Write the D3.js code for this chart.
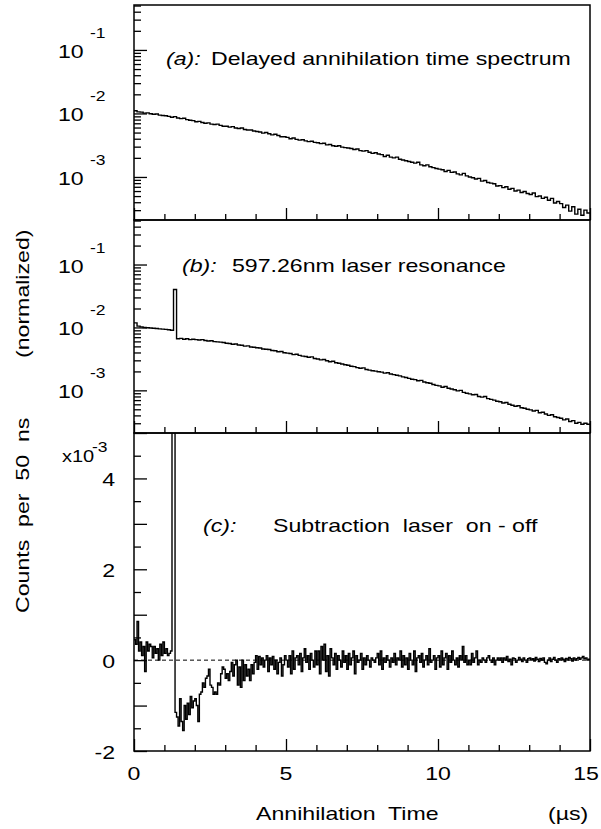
<!DOCTYPE html>
<html>
<head>
<meta charset="utf-8">
<script src="https://cdn.jsdelivr.net/npm/d3@7"></script>
<style>
body { margin: 0; background: #fff; }
svg text { font-family: "Liberation Sans", Arial, Helvetica, sans-serif; fill: #000; }
</style>
</head>
<body>
<div id="chart"></div>
<script>
// Histogram contents.
// Panels (a) and (b): 100 ns bins, values in units of 1e-3 (normalized counts).
const binAB = 0.1
const spectrumA = [
    11.0, 10.6, 10.5, 10.1, 10.2, 9.9, 9.7, 9.8, 9.4, 9.3,
    9.2, 9.0, 8.7, 8.9, 8.5, 8.3, 8.4, 8.0, 7.8, 7.7,
    7.4, 7.5, 7.2, 7.0, 7.1, 6.8, 6.7, 6.8, 6.5, 6.3,
    6.3, 6.1, 6.2, 5.9, 5.8, 5.9, 5.6, 5.5, 5.5, 5.3,
    5.2, 5.1, 4.9, 5.0, 4.8, 4.6, 4.7, 4.5, 4.3, 4.3,
    4.2, 4.0, 4.1, 3.9, 3.8, 3.85, 3.7, 3.6, 3.65, 3.5,
    3.45, 3.35, 3.4, 3.2, 3.25, 3.1, 3.05, 3.1, 2.95, 2.9,
    2.85, 2.8, 2.7, 2.75, 2.6, 2.55, 2.6, 2.45, 2.35, 2.4,
    2.3, 2.25, 2.1, 2.2, 2.05, 2.0, 2.05, 1.9, 1.85, 1.8,
    1.75, 1.7, 1.65, 1.7, 1.55, 1.5, 1.55, 1.45, 1.4, 1.36,
    1.33, 1.3, 1.22, 1.27, 1.18, 1.2, 1.12, 1.08, 1.14, 1.04,
    1.0, 0.97, 0.93, 0.95, 0.86, 0.88, 0.82, 0.8, 0.78, 0.72,
    0.73, 0.68, 0.7, 0.64, 0.66, 0.6, 0.62, 0.57, 0.59, 0.55,
    0.53, 0.56, 0.49, 0.5, 0.46, 0.48, 0.43, 0.46, 0.39, 0.41,
    0.38, 0.33, 0.36, 0.29, 0.34, 0.26, 0.31, 0.25, 0.3, 0.27
]
const spectrumB = [
    11.8, 10.5, 10.2, 10.0, 9.9, 9.8, 9.7, 9.6, 9.5, 9.4,
    9.3, 9.2, 9.0, 40.0, 6.6, 6.7, 6.5, 6.6, 6.4, 6.5,
    6.4, 6.3, 6.4, 6.2, 6.1, 6.15, 5.95, 5.9, 5.85, 5.75,
    5.6, 5.55, 5.4, 5.45, 5.25, 5.2, 5.05, 5.1, 4.9, 4.85,
    4.75, 4.7, 4.55, 4.5, 4.45, 4.3, 4.25, 4.1, 4.15, 3.95,
    3.9, 3.85, 3.7, 3.75, 3.6, 3.5, 3.45, 3.35, 3.4, 3.2,
    3.15, 3.05, 3.1, 2.95, 2.85, 2.9, 2.75, 2.7, 2.62, 2.55,
    2.5, 2.42, 2.38, 2.3, 2.25, 2.28, 2.15, 2.1, 2.05, 2.02,
    1.98, 1.95, 1.88, 1.9, 1.82, 1.78, 1.74, 1.7, 1.64, 1.6,
    1.55, 1.5, 1.48, 1.42, 1.44, 1.36, 1.32, 1.3, 1.24, 1.2,
    1.18, 1.12, 1.15, 1.08, 1.05, 1.02, 0.98, 1.0, 0.93, 0.9,
    0.88, 0.85, 0.86, 0.8, 0.78, 0.8, 0.74, 0.72, 0.7, 0.67,
    0.66, 0.63, 0.64, 0.6, 0.58, 0.56, 0.57, 0.53, 0.52, 0.5,
    0.49, 0.47, 0.48, 0.44, 0.45, 0.42, 0.4, 0.41, 0.38, 0.37,
    0.36, 0.34, 0.35, 0.32, 0.33, 0.3, 0.31, 0.29, 0.3, 0.29
]
// Panel (c): 50 ns bins, laser on - off, units of 1e-3.
const binC = 0.05
const subtraction = [
    0.45, 0.35, 0.85, 0.2, 0.4, 0.1, 0.3, -0.25, 0.4, 0.2,
    0.35, 0.3, 0.05, 0.3, 0.15, 0.25, 0.0, 0.35, 0.1, 0.4,
    0.15, 0.25, 0.1, 0.15, 0.2, 12, 7, -1.15, -1.25, -1.45,
    -0.85, -1.35, -1.55, -1.0, -1.3, -0.95, -1.2, -0.8, -1.05, -0.9,
    -0.85, -1.0, -1.35, -0.75, -0.7, -0.5, -0.6, -0.4, -0.35, -0.2,
    -0.55, -0.6, -0.75, -0.7, -0.75, -0.5, -0.55, -0.3, -0.15, -0.2,
    -0.4, -0.3, -0.45, -0.25, -0.05, -0.35, -0.1, 0.0, -0.55, -0.15,
    -0.6, 0.0, -0.45, -0.1, -0.35, -0.2, -0.45, -0.1, -0.3, -0.05,
    0.1, -0.2, 0.08, -0.1, 0.05, -0.15, 0.0, 0.1, -0.25, 0.05,
    -0.1, 0.08, -0.2, 0.0, -0.3, -0.05, 0.05, -0.35, -0.1, 0.1,
    0.0, -0.15, 0.1, -0.3, 0.2, -0.2, 0.05, 0.1, -0.1, 0.15,
    -0.25, 0.05, 0.25, -0.05, 0.1, -0.2, 0.15, 0.0, -0.15, 0.2,
    -0.1, 0.2, -0.3, 0.3, 0.0, 0.35, -0.25, 0.1, -0.35, 0.25,
    0.05, -0.1, 0.15, -0.2, 0.1, 0.0, -0.15, 0.2, -0.05, 0.1,
    -0.2, 0.15, -0.1, 0.05, 0.2, -0.3, 0.1, -0.05, 0.0, 0.15,
    -0.2, 0.05, -0.1, 0.1, 0.0, -0.15, 0.05, 0.0, -0.05, 0.05,
    0.15, -0.1, 0.2, -0.2, 0.05, -0.05, 0.1, 0.0, -0.15, 0.05,
    -0.05, 0.15, -0.1, 0.05, 0.0, 0.2, -0.15, 0.1, -0.1, 0.05,
    -0.2, 0.15, 0.0, -0.1, 0.2, -0.25, 0.05, 0.1, -0.05, 0.15,
    -0.15, 0.0, 0.1, -0.1, 0.25, -0.05, 0.0, 0.1, -0.2, 0.05,
    0.1, -0.15, 0.2, -0.1, 0.05, 0.15, -0.2, 0.1, -0.05, 0.2,
    0.0, -0.1, 0.05, -0.15, 0.1, 0.0, 0.3, -0.05, 0.1, -0.1,
    0.0, -0.1, 0.15, -0.05, 0.05, 0.2, -0.1, 0.0, -0.05, 0.05,
    0.0, -0.05, 0.05, 0.1, 0.0, -0.05, 0.05, -0.1, 0.0, 0.05,
    0.0, 0.05, -0.05, 0.05, 0.0, 0.08, -0.03, 0.02, -0.1, 0.05,
    0.03, -0.05, 0.0, 0.06, 0.02, -0.03, 0.05, 0.0, -0.05, 0.03,
    0.05, 0.0, 0.03, -0.02, 0.06, 0.02, -0.03, 0.04, 0.0, 0.05,
    -0.05, -0.08, 0.0, 0.05, -0.03, 0.02, 0.06, 0.0, -0.05, 0.03,
    0.0, 0.05, 0.02, -0.03, 0.04, 0.0, 0.06, 0.03, -0.02, 0.05,
    0.0, 0.03, 0.06, 0.02, 0.05, 0.08, 0.03, 0.05, 0.0, 0.02
]

// Axis ticks and labels.
const xMajorTicks = [0, 5, 10, 15]
const xMinorTicks = [1, 2, 3, 4, 6, 7, 8, 9, 11, 12, 13, 14]
const logDecades = [-1, -2, -3]
const cLabelTicks = [-2, 0, 2, 4]
const cIntTicks = [-1, 1, 3, 5]
const cHalfTicks = [-1.5, -0.5, 0.5, 1.5, 2.5, 3.5, 4.5]
const panelTags = ["(a):", "(b):", "(c):"]
const panelTexts = ["Delayed annihilation time spectrum", "597.26nm laser resonance", "Subtraction  laser  on - off"]

// Layout.
let width = 601
let height = 829
let left = 134, right = 590
let panelTops = [5, 220, 433]
let panelBottoms = [220, 433, 751]
let fontSize = 18.5
let stretch = 1.25
let logDomain = [2.1e-4, 0.51]

let svg = d3.select("#chart")
    .append("svg")
    .attr("width", width)
    .attr("height", height)

let x = d3.scaleLinear().domain([0, 15]).range([left, right])

// Text helper: the original lettering is wider than Arial, so stretch horizontally.
function addText(g, str, px, py, opts) {
    opts = opts || {}
    return g.append("text")
        .attr("transform", "translate(" + px + "," + py + ")" + (opts.rotate ? " rotate(" + opts.rotate + ")" : "") + " scale(" + stretch + ",1)")
        .attr("text-anchor", opts.anchor || "start")
        .style("font-size", (opts.size || fontSize) + "px")
        .style("font-style", opts.italic ? "italic" : "normal")
        .style("white-space", "pre")
        .text(str)
}

function histPoints(values, bin, scale) {
    let pts = values.map(function(v, i) { return [i * bin, v * scale] })
    pts.push([values.length * bin, values[values.length - 1] * scale])
    return pts
}

function addClip(id, top, bottom) {
    svg.append("clipPath").attr("id", id)
        .append("rect")
        .attr("x", left).attr("y", top)
        .attr("width", right - left).attr("height", bottom - top)
}

function styleTicks(g) {
    g.select(".domain").remove()
    g.selectAll("line").attr("stroke", "#000").attr("stroke-width", 1.3)
}

function drawXTicks(bottom) {
    svg.append("g").attr("transform", "translate(0," + bottom + ")")
        .call(d3.axisBottom(x).tickValues(xMajorTicks).tickSize(-12).tickFormat(""))
        .call(styleTicks)
    svg.append("g").attr("transform", "translate(0," + bottom + ")")
        .call(d3.axisBottom(x).tickValues(xMinorTicks).tickSize(-6).tickFormat(""))
        .call(styleTicks)
}

function drawFrame(top, bottom) {
    svg.append("rect")
        .attr("x", left).attr("y", top)
        .attr("width", right - left).attr("height", bottom - top)
        .attr("fill", "none").attr("stroke", "#000").attr("stroke-width", 1.5)
}

// Log-scale panels (a) and (b).
function drawLogPanel(idx, values, tagX, textX, textY) {
    let top = panelTops[idx], bottom = panelBottoms[idx]
    let y = d3.scaleLog().domain(logDomain).range([bottom, top])
    addClip("clip" + idx, top, bottom)

    let line = d3.line()
        .x(function(d) { return x(d[0]) })
        .y(function(d) { return y(d[1]) })
        .curve(d3.curveStepAfter)
    svg.append("path")
        .attr("d", line(histPoints(values, binAB, 1e-3)))
        .attr("clip-path", "url(#clip" + idx + ")")
        .attr("fill", "none").attr("stroke", "#000").attr("stroke-width", 1.4)

    let minor = []
    for (let k = -4; k <= -1; k++) {
        for (let m = 2; m <= 9; m++) {
            let v = m * Math.pow(10, k)
            if (v > logDomain[0] && v < logDomain[1]) minor.push(v)
        }
    }
    svg.append("g").attr("transform", "translate(" + left + ",0)")
        .call(d3.axisLeft(y).tickValues(logDecades.map(function(k) { return Math.pow(10, k) })).tickSize(-13).tickFormat(""))
        .call(styleTicks)
    svg.append("g").attr("transform", "translate(" + left + ",0)")
        .call(d3.axisLeft(y).tickValues(minor).tickSize(-7).tickFormat(""))
        .call(styleTicks)

    logDecades.forEach(function(k) {
        let yy = y(Math.pow(10, k))
        addText(svg, "10", 58, yy + 8)
        addText(svg, String(k), 90, yy - 12, {size: 14})
    })

    drawXTicks(bottom)
    drawFrame(top, bottom)

    addText(svg, panelTags[idx], tagX, textY, {italic: true})
    addText(svg, panelTexts[idx], textX, textY)
}

drawLogPanel(0, spectrumA, 166, 211, 65)
drawLogPanel(1, spectrumB, 182, 232, 272)

// Linear panel (c).
let topC = panelTops[2], bottomC = panelBottoms[2]
let yC = d3.scaleLinear().domain([-2, 5]).range([bottomC, topC])
addClip("clip2", topC, bottomC)

svg.append("line")
    .attr("x1", left).attr("x2", right)
    .attr("y1", yC(0)).attr("y2", yC(0))
    .attr("stroke", "#000").attr("stroke-width", 1)
    .attr("stroke-dasharray", "4,3")

let lineC = d3.line()
    .x(function(d) { return x(d[0]) })
    .y(function(d) { return yC(d[1]) })
    .curve(d3.curveStepAfter)
svg.append("path")
    .attr("d", lineC(histPoints(subtraction, binC, 1)))
    .attr("clip-path", "url(#clip2)")
    .attr("fill", "none").attr("stroke", "#000").attr("stroke-width", 1.4)

svg.append("g").attr("transform", "translate(" + left + ",0)")
    .call(d3.axisLeft(yC).tickValues(cLabelTicks.concat(cIntTicks)).tickSize(-13).tickFormat(""))
    .call(styleTicks)
svg.append("g").attr("transform", "translate(" + left + ",0)")
    .call(d3.axisLeft(yC).tickValues(cHalfTicks).tickSize(-7).tickFormat(""))
    .call(styleTicks)

cLabelTicks.forEach(function(v) {
    addText(svg, String(v), 115, yC(v) + 8, {anchor: "end"})
})
addText(svg, "x10", 62, 462, {size: 16})
addText(svg, "-3", 92, 452, {size: 14})

drawXTicks(bottomC)
drawFrame(topC, bottomC)

addText(svg, panelTags[2], 203, 532, {italic: true})
addText(svg, panelTexts[2], 273, 532)

// Bottom axis labels; the last one is kept inside the page edge.
xMajorTicks.forEach(function(t) {
    addText(svg, String(t), Math.min(x(t), width - 15), 780, {anchor: "middle"})
})
addText(svg, "Annihilation  Time", 256, 820)
addText(svg, "(\u00b5s)", 548, 820)

// Y axis title.
addText(svg, "Counts  per  50  ns", 29, 613, {rotate: -90})
addText(svg, "(normalized)", 29, 358, {rotate: -90})
</script>
</body>
</html>
